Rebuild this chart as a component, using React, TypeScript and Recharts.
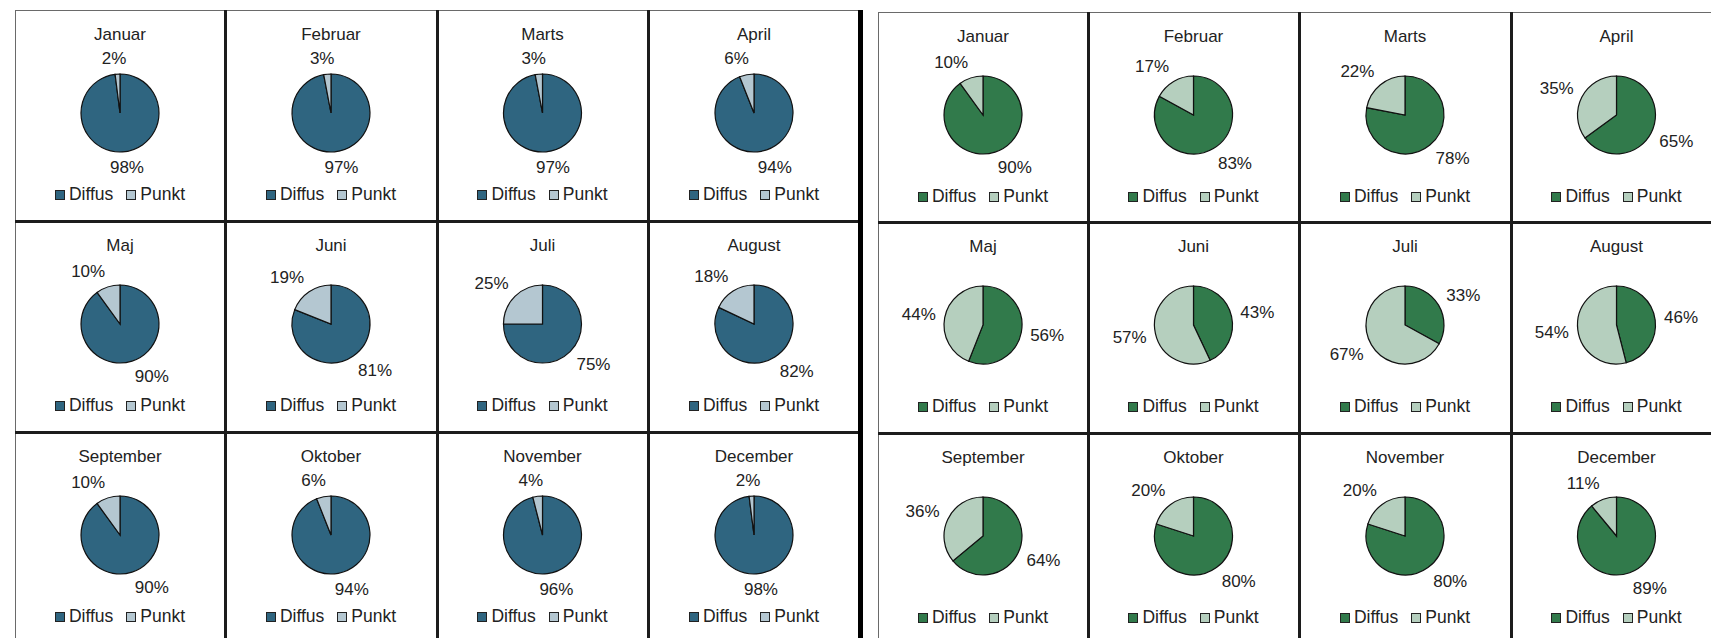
import React from 'react';
import { PieChart, Pie, Cell, Legend } from 'recharts';

// ---------- data ----------
const months = ['Januar', 'Februar', 'Marts', 'April', 'Maj', 'Juni', 'Juli', 'August', 'September', 'Oktober', 'November', 'December'];
const seriesNames = ['Diffus', 'Punkt'];
const leftDiffus = [98, 97, 97, 94, 90, 81, 75, 82, 90, 94, 96, 98];
const leftPunkt = [2, 3, 3, 6, 10, 19, 25, 18, 10, 6, 4, 2];
const rightDiffus = [90, 83, 78, 65, 56, 43, 33, 46, 64, 80, 80, 89];
const rightPunkt = [10, 17, 22, 35, 44, 57, 67, 54, 36, 20, 20, 11];

// ---------- styles ----------
const leftColors = ['#2F6580', '#B4C7D1'];
const rightColors = ['#317A4B', '#B5CFBE'];
const FONT = '"Liberation Sans", Arial, sans-serif';
const TEXT = '#222222';
const FS = 17;

const leftCols = [15, 225, 437, 648, 860];
const leftRows = [10, 221, 432, 643];
const rightCols = [878, 1088, 1299, 1511, 1722];
const rightRows = [12, 222, 433, 644];

const textW = (s: string) => {
  let w = 0;
  for (const ch of s) w += ch === '%' ? 0.889 : 0.556;
  return w * FS;
};
const clamp = (v: number) => Math.max(-1, Math.min(1, v));

const renderLabel = (props: any) => {
  const { cx, cy, midAngle, outerRadius } = props;
  const value = props.value ?? props.payload?.value;
  const rad = (midAngle * Math.PI) / 180;
  const dx = Math.cos(rad);
  const dy = -Math.sin(rad);
  const txt = `${value}%`;
  const w = textW(txt);
  const R = outerRadius + 9;
  const x = cx + R * dx + (w / 2) * clamp(dx * 3.7);
  const y = cy + R * dy + 7 * clamp(dy * 1.5);
  return (
    <text key={`l-${props.index}`} x={x} y={y} textAnchor="middle" dominantBaseline="central" fontSize={FS} fill={TEXT} fontFamily={FONT}>
      {txt}
    </text>
  );
};

const LegendBox = ({ colors }: { colors: string[] }) => (
  <div style={{ display: 'flex', justifyContent: 'center', alignItems: 'center', fontFamily: FONT, fontSize: 17.5, color: TEXT, lineHeight: 'normal' }}>
    {seriesNames.map((n, i) => (
      <span key={n} style={{ display: 'flex', alignItems: 'center', marginLeft: i ? 13 : 0 }}>
        <span style={{ display: 'inline-block', width: 8, height: 8, background: colors[i], border: '1px solid #222', marginRight: 4 }} />
        {n}
      </span>
    ))}
  </div>
);

function PieCell({ title, diffus, punkt, colors, left, top, width, height }: any) {
  const data = [
    { name: seriesNames[0], value: diffus },
    { name: seriesNames[1], value: punkt },
  ];
  return (
    <div style={{ position: 'absolute', left, top, width, height }}>
      <div style={{ position: 'absolute', left: 0, top: 14.6, width, textAlign: 'center', fontFamily: FONT, fontSize: FS, color: TEXT, lineHeight: 'normal' }}>
        {title}
      </div>
      <PieChart width={width} height={height} margin={{ top: 0, left: 0, right: 0, bottom: 0 }}>
        <Pie
          data={data}
          dataKey="value"
          nameKey="name"
          cx={width / 2}
          cy={103}
          outerRadius={39}
          startAngle={90}
          endAngle={-270}
          isAnimationActive={false}
          stroke="#111"
          strokeWidth={1.2}
          label={renderLabel}
          labelLine={false}
        >
          {data.map((d, i) => (
            <Cell key={d.name} fill={colors[i]} />
          ))}
        </Pie>
        <Legend
          content={() => <LegendBox colors={colors} />}
          wrapperStyle={{ position: 'absolute', top: 174, left: 0, width, bottom: 'auto', margin: 0 }}
        />
      </PieChart>
    </div>
  );
}

function Panel({ cols, rows, diffus, punkt, colors }: any) {
  const cells: any[] = [];
  for (let r = 0; r < 3; r++) {
    for (let c = 0; c < 4; c++) {
      const i = r * 4 + c;
      cells.push(
        <PieCell
          key={i}
          title={months[i]}
          diffus={diffus[i]}
          punkt={punkt[i]}
          colors={colors}
          left={cols[c]}
          top={rows[r]}
          width={cols[c + 1] - cols[c]}
          height={rows[r + 1] - rows[r]}
        />
      );
    }
  }
  return <>{cells}</>;
}

const Line = ({ x, y, w, h, color }: any) => (
  <div style={{ position: 'absolute', left: x, top: y, width: w, height: h, background: color }} />
);

export default function App() {
  const H = 638;
  const thin = '#6a6a6a';
  const thick = '#1c1c1c';
  return (
    <div style={{ position: 'absolute', left: 0, top: 0, width: 1711, height: H, overflow: 'hidden', background: '#fff' }}>
      <Panel cols={leftCols} rows={leftRows} diffus={leftDiffus} punkt={leftPunkt} colors={leftColors} />
      <Panel cols={rightCols} rows={rightRows} diffus={rightDiffus} punkt={rightPunkt} colors={rightColors} />

      {/* left panel frame */}
      <Line x={leftCols[0]} y={leftRows[0]} w={leftCols[4] - leftCols[0]} h={1} color={thin} />
      <Line x={leftCols[0]} y={leftRows[0]} w={1} h={H} color={thin} />
      {[1, 2, 3].map((c) => (
        <Line key={'lv' + c} x={leftCols[c] - 1} y={leftRows[0]} w={3} h={H} color={thick} />
      ))}
      {[1, 2].map((r) => (
        <Line key={'lh' + r} x={leftCols[0]} y={leftRows[r] - 1} w={leftCols[4] - leftCols[0]} h={3} color={thick} />
      ))}
      <Line x={858} y={leftRows[0]} w={5} h={H} color="#000" />

      {/* right panel frame */}
      <Line x={rightCols[0]} y={rightRows[0]} w={1711 - rightCols[0]} h={1} color={thin} />
      <Line x={rightCols[0]} y={rightRows[0]} w={1} h={H} color={thin} />
      {[1, 2, 3].map((c) => (
        <Line key={'rv' + c} x={rightCols[c] - 1} y={rightRows[0]} w={3} h={H} color={thick} />
      ))}
      {[1, 2].map((r) => (
        <Line key={'rh' + r} x={rightCols[0]} y={rightRows[r] - 1} w={1711 - rightCols[0]} h={3} color={thick} />
      ))}
    </div>
  );
}
